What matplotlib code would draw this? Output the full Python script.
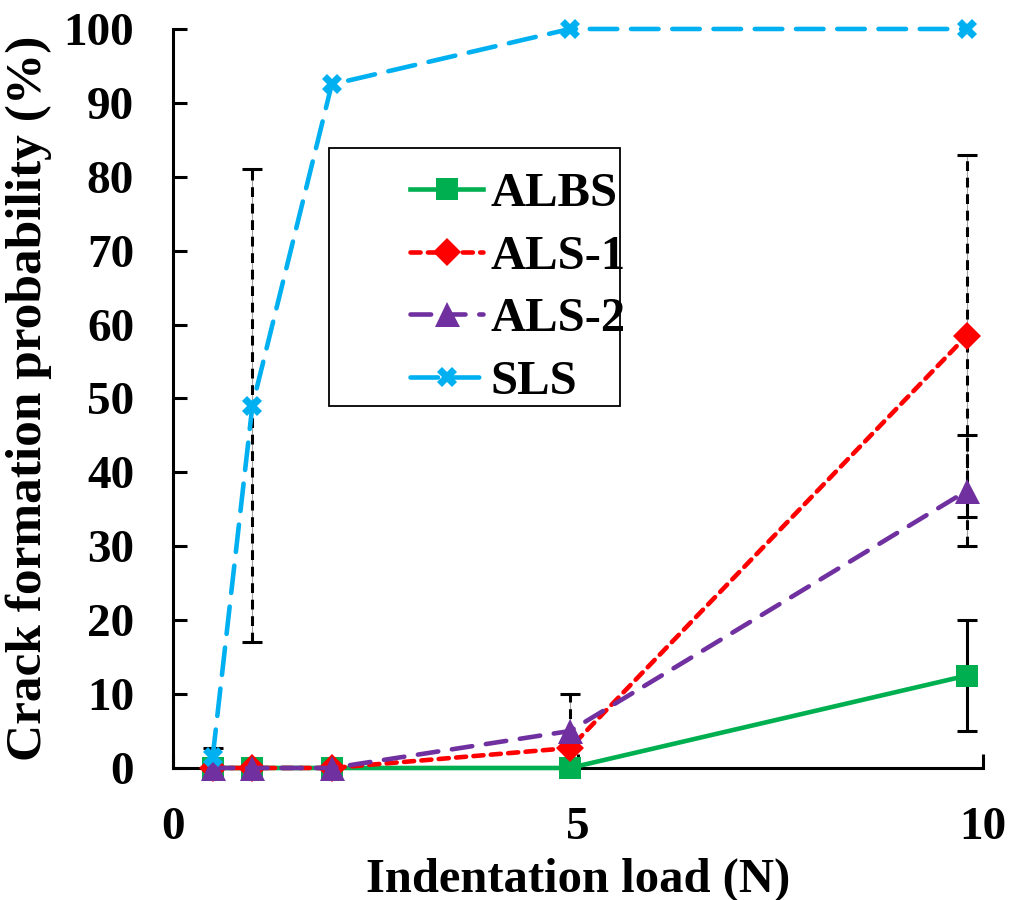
import matplotlib.pyplot as plt
from matplotlib.patches import Rectangle

plt.rcParams['font.family'] = ['Liberation Serif', 'DejaVu Serif']
plt.rcParams['font.weight'] = 'bold'

# indentation loads (N)
loads = [0.49, 0.98, 1.96, 4.9, 9.8]

albs = [0, 0, 0, 0, 12.5]
albs_err = [0, 0, 0, 0, 7.5]
als1 = [0, 0, 0, 2.7, 58.5]
als1_err = [0, 0, 0, 0, 24.5]
als2 = [0, 0, 0, 5, 37.5]
als2_err = [0, 0, 0, 5, 7.5]
sls = [1.5, 49, 92.5, 100, 100]
sls_err = [1.2, 32, 0, 0, 0]

fig = plt.figure(figsize=(10.11, 9), dpi=100)
ax = fig.add_axes([0.1711, 0.1467, 0.8012, 0.8211])


def err(y, e, dashed=True):
    # thin gray underlay, then black bars with caps
    xs = [x for x, v in zip(loads, e) if v > 0]
    ys = [a for a, v in zip(y, e) if v > 0]
    es = [v for v in e if v > 0]
    ax.errorbar(xs, ys, yerr=es, fmt='none', ecolor='#a0a0a0', elinewidth=0.8, zorder=1.4)
    c = ax.errorbar(xs, ys, yerr=es, fmt='none', ecolor='black', elinewidth=2.2,
                    capsize=7, capthick=2.2, zorder=1.5)
    if dashed:
        c[2][0].set_linestyle((0, (3.2, 2.2)))


err(albs, albs_err, dashed=False)
err(als1, als1_err)
err(als2, als2_err)
err(sls, sls_err)

lw = 3.3
ax.plot(loads, albs, color='#00B050', lw=lw, marker='s', ms=16, mew=0,
        label='ALBS', clip_on=False, zorder=3)
ax.plot(loads, als1, color='#FF0000', lw=lw, ls=(0, (2.2, 1.6)), dash_capstyle='round',
        marker='D', ms=14, mew=0, label='ALS-1', clip_on=False, zorder=3)
ax.plot(loads, als2, color='#7030A0', lw=lw, ls=(0, (4.5, 3)), dash_capstyle='round',
        marker='^', ms=18, mew=0, label='ALS-2', clip_on=False, zorder=3)
ax.plot(loads, sls, color='#00B0F0', lw=lw, ls=(0, (6, 3)), dash_capstyle='round',
        marker='X', ms=14, mew=0, label='SLS', clip_on=False, zorder=3)

ax.set_xlim(0, 10)
ax.set_ylim(0, 100)
ax.set_xticks([0, 5, 10])
ax.set_yticks(range(0, 101, 10))
for s in ['top', 'right']:
    ax.spines[s].set_visible(False)
for s in ['left', 'bottom']:
    ax.spines[s].set_linewidth(2.2)
ax.tick_params(direction='in', length=10, width=2.2, labelsize=34, pad=28)

ax.set_xlabel('Indentation load (N)', fontsize=35, fontweight='bold', labelpad=6)
ax.set_ylabel('Crack formation probability (%)', fontsize=37, fontweight='bold', labelpad=8)

leg = ax.legend(loc='upper left', bbox_to_anchor=(386 / 1011, 1 - 148 / 900),
                bbox_transform=fig.transFigure, frameon=False, fontsize=35,
                handlelength=1.5, handletextpad=0.15, labelspacing=0.38,
                borderpad=0, numpoints=1)
fig.patches.append(Rectangle((329 / 1011, 1 - 406 / 900), 291 / 1011, 258 / 900,
                             transform=fig.transFigure, fill=False, ec='black', lw=1.3))

fig.savefig('out.png', dpi=100)
